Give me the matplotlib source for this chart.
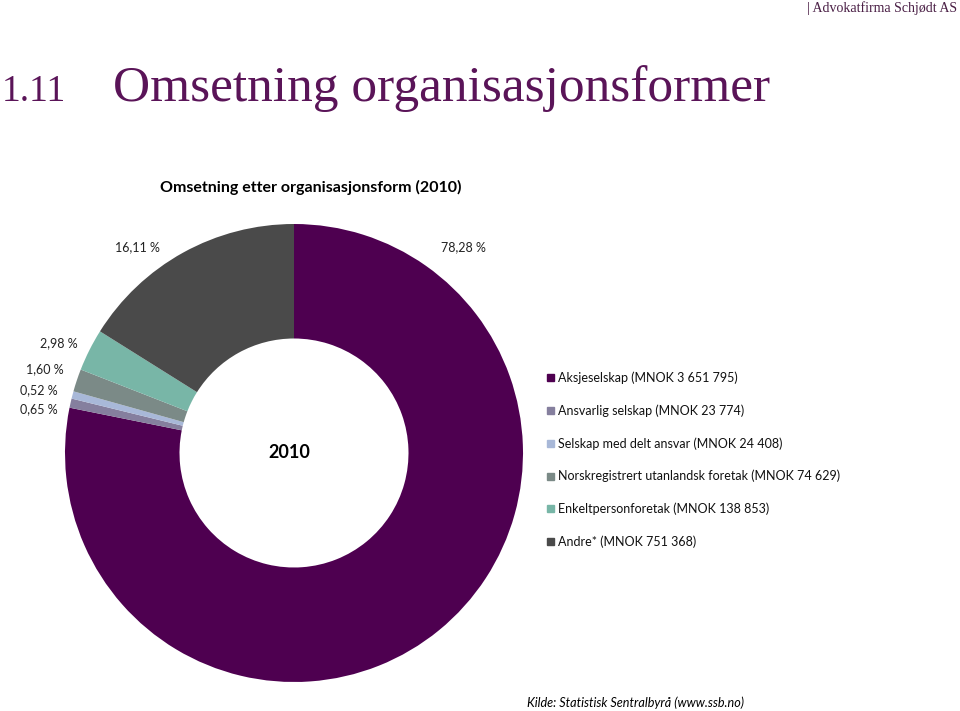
import matplotlib
matplotlib.use("Agg")
import matplotlib.pyplot as plt

W, H = 960, 711

categories = [
    "Aksjeselskap (MNOK 3 651 795)",
    "Ansvarlig selskap (MNOK 23 774)",
    "Selskap med delt ansvar (MNOK 24 408)",
    "Norskregistrert utanlandsk foretak (MNOK 74 629)",
    "Enkeltpersonforetak (MNOK 138 853)",
    "Andre* (MNOK 751 368)",
]
shares = [78.28, 0.65, 0.52, 1.60, 2.98, 16.11]
share_labels = ["78,28 %", "0,65 %", "0,52 %", "1,60 %", "2,98 %", "16,11 %"]
colors = ["#4E0050", "#857F9E", "#A8B8D8", "#7B8A87", "#78B6A7", "#4A4A4A"]

# label anchor points (pixels, right/left aligned text)
label_pos = [(441, 247, "left"), (58, 409, "right"), (58, 390, "right"),
             (64, 369, "right"), (78, 343, "right"), (160, 247, "right")]

SANS = ["Lato", "DejaVu Sans"]


def fx(x):
    return x / W


def fy(y):
    return 1 - y / H


fig = plt.figure(figsize=(W / 100, H / 100), dpi=100)
fig.patch.set_facecolor("white")

# donut: centre (294, 453), radius 229 px
cx, cy, r = 294, 453, 229
ax = fig.add_axes([fx(cx - r), fy(cy + r), 2 * r / W, 2 * r / H])
ax.pie(shares, colors=colors, startangle=90, counterclock=False,
       radius=1, wedgeprops=dict(width=0.5, edgecolor="none"))
ax.set_xlim(-1, 1)
ax.set_ylim(-1, 1)
ax.set_aspect("auto")
ax.axis("off")
ax.text(-0.02, 0, "2010", ha="center", va="center", fontsize=13,
        fontweight="bold", family=SANS, color="black")

for lab, (x, y, ha) in zip(share_labels, label_pos):
    fig.text(fx(x), fy(y), lab, ha=ha, va="center", fontsize=9,
             family=SANS, color="#222222")

# legend
for i, (cat, col) in enumerate(zip(categories, colors)):
    y = 378 + i * 32.7
    fig.patches.append(plt.Rectangle((fx(547), fy(y) - 3.5 / H), 7 / W, 7 / H,
                                     transform=fig.transFigure, color=col))
    fig.text(fx(558), fy(y), cat, ha="left", va="center", fontsize=9,
             family=SANS, color="#111111")

# titles
fig.text(fx(2), fy(92), "1.11", ha="left", va="center", fontsize=27,
         family="Liberation Serif", color="#5A1458")
fig.text(fx(113), fy(89), "Omsetning organisasjonsformer", ha="left",
         va="center", fontsize=37, family="Liberation Serif", color="#5A1458")
fig.text(fx(957), fy(8), "| Advokatfirma Schjødt AS", ha="right", va="center",
         fontsize=10, family="Liberation Serif", color="#4A1F45")
fig.text(fx(311), fy(187), "Omsetning etter organisasjonsform (2010)",
         ha="center", va="center", fontsize=11.5, fontweight="bold",
         family=SANS, color="black")
fig.text(fx(527), fy(703), "Kilde: Statistisk Sentralbyrå (www.ssb.no)",
         ha="left", va="center", fontsize=9.1, style="italic",
         family=SANS, color="black")

fig.savefig("out.png", dpi=100)
